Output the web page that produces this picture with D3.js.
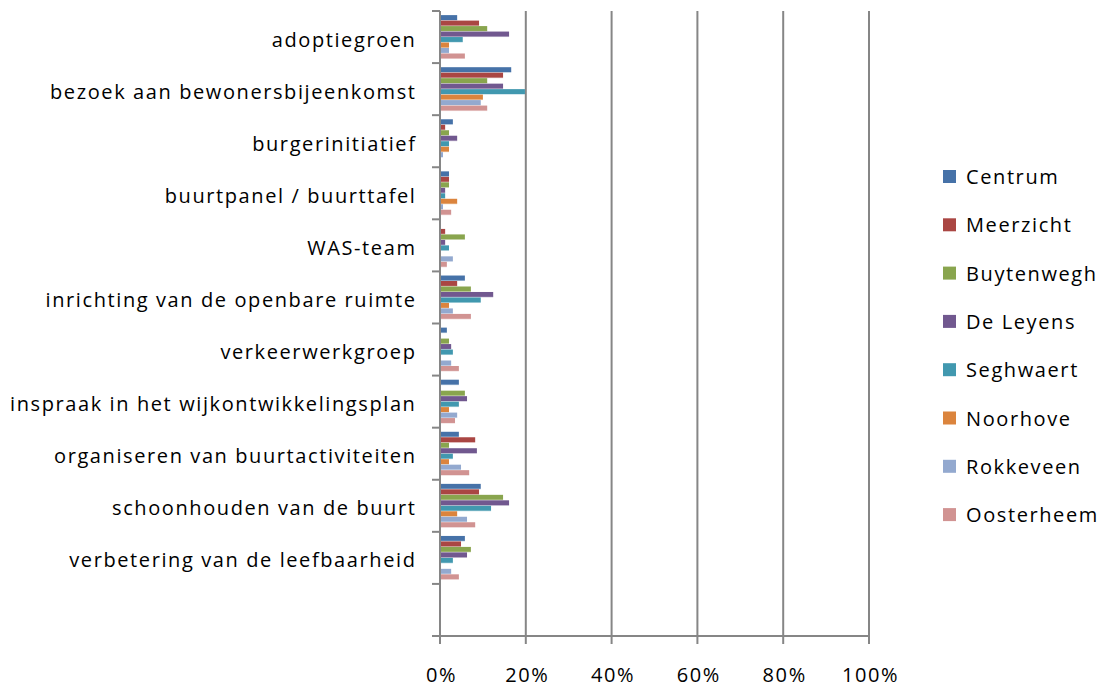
<!DOCTYPE html>
<html><head><meta charset="utf-8">
<script src="https://cdn.jsdelivr.net/npm/d3@7"></script>
<style>body{margin:0;background:#fff}svg{display:block}text{font-family:"Open Sans",sans-serif;fill:#000;letter-spacing:1.6px}</style>
</head><body><svg id="c" width="1108" height="688"></svg>
<script>
const categories = ["adoptiegroen","bezoek aan bewonersbijeenkomst","burgerinitiatief","buurtpanel / buurttafel","WAS-team","inrichting van de openbare ruimte","verkeerwerkgroep","inspraak in het wijkontwikkelingsplan","organiseren van buurtactiviteiten","schoonhouden van de buurt","verbetering van de leefbaarheid",""];
const seriesNames = ["Centrum","Meerzicht","Buytenwegh","De Leyens","Seghwaert","Noorhove","Rokkeveen","Oosterheem"];
const colors = ["#4672A8","#AA4643","#89A54E","#71588F","#4198AF","#DB843D","#93A9CF","#D19392"];
const centrum    = [4.0,16.6,3.0,2.1,0,5.8,1.6,4.4,4.4,9.5,5.8,null];
const meerzicht  = [9.1,14.7,1.2,2.1,1.2,4.0,0,0,8.2,9.1,4.9,null];
const buytenwegh = [11.0,11.0,2.1,2.1,5.8,7.2,2.1,5.8,2.1,14.7,7.2,null];
const deLeyens   = [16.1,14.7,4.0,1.2,1.2,12.4,2.6,6.3,8.6,16.1,6.3,null];
const seghwaert  = [5.3,19.8,2.1,1.2,2.1,9.5,3.0,4.4,3.0,11.9,3.0,null];
const noorhove   = [2.1,10.0,2.1,4.0,0,2.1,0,2.1,2.1,4.0,0,null];
const rokkeveen  = [2.1,9.5,0.7,0.7,3.0,3.0,2.6,4.0,4.9,6.3,2.6,null];
const oosterheem = [5.8,11.0,0,2.6,1.6,7.2,4.4,3.5,6.8,8.2,4.4,null];
const xTicks = [0,20,40,60,80,100];
const tickLabels = ["0%","20%","40%","60%","80%","100%"];
const values = [centrum,meerzicht,buytenwegh,deLeyens,seghwaert,noorhove,rokkeveen,oosterheem];

(function(){
const svg = d3.select("#c");
const L = 440, R = 869, T = 11, B = 636;
const x = d3.scaleLinear().domain([0,100]).range([L,R]);
const y = d3.scaleBand().domain(d3.range(categories.length)).range([T,B]);
const barH = y.bandwidth()/(seriesNames.length+1.5);
const off = barH*0.75;

svg.append("g").selectAll("line").data(xTicks.slice(1)).join("line")
  .attr("x1",d=>x(d)).attr("x2",d=>x(d)).attr("y1",T).attr("y2",B)
  .attr("stroke","#868686").attr("stroke-width",2);

const g = svg.append("g");
categories.forEach((c,ci)=>{
  values.forEach((arr,si)=>{
    const v = arr[ci];
    if(!v) return;
    const yy = y(ci)+off+si*barH;
    g.append("rect").attr("x",x(0)).attr("y",yy).attr("width",x(v)-x(0)).attr("height",barH-0.6).attr("fill",colors[si]);
    g.append("rect").attr("x",x(0)).attr("y",yy+barH-1).attr("width",x(v)-x(0)).attr("height",1).attr("fill",colors[si]).attr("opacity",0.35);
  });
});

svg.append("line").attr("x1",L).attr("x2",L).attr("y1",T).attr("y2",B+8).attr("stroke","#868686").attr("stroke-width",2);
svg.append("g").selectAll("line").data(d3.range(categories.length+1)).join("line")
  .attr("x1",L-8).attr("x2",L).attr("y1",d=>T+d*y.bandwidth()).attr("y2",d=>T+d*y.bandwidth())
  .attr("stroke","#868686").attr("stroke-width",2);
svg.append("line").attr("x1",L-8).attr("x2",R).attr("y1",B).attr("y2",B).attr("stroke","#868686").attr("stroke-width",2);
svg.append("g").selectAll("line").data(xTicks).join("line")
  .attr("x1",d=>x(d)).attr("x2",d=>x(d)).attr("y1",B).attr("y2",B+8)
  .attr("stroke","#868686").attr("stroke-width",2);
svg.append("g").selectAll("text").data(xTicks).join("text")
  .attr("x",d=>x(d)+1.5).attr("y",682).attr("text-anchor","middle").attr("font-size",20)
  .text((d,i)=>tickLabels[i]);

svg.append("g").selectAll("text").data(categories).join("text")
  .attr("x",416.5).attr("y",(d,i)=>y(i)+y.bandwidth()/2+9.5).attr("text-anchor","end").attr("font-size",20)
  .text(d=>d);

const lg = svg.append("g");
seriesNames.forEach((s,i)=>{
  const ly = 177 + i*48.3;
  lg.append("rect").attr("x",943).attr("y",ly-7).attr("width",13).attr("height",13).attr("fill",colors[i]);
  lg.append("text").attr("x",966).attr("y",ly+7).attr("font-size",20).text(s);
});
})();
</script></body></html>
